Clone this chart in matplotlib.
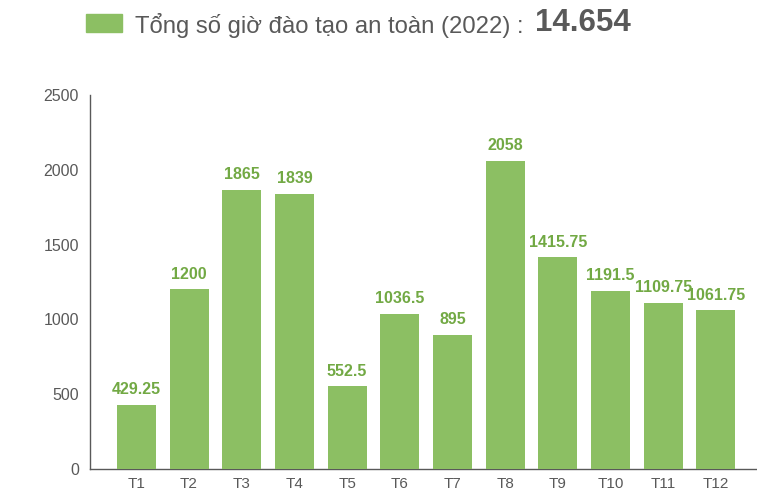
import matplotlib.pyplot as plt

months = ["T1", "T2", "T3", "T4", "T5", "T6", "T7", "T8", "T9", "T10", "T11", "T12"]
hours = [429.25, 1200, 1865, 1839, 552.5, 1036.5, 895, 2058, 1415.75, 1191.5, 1109.75, 1061.75]
total_label = "14.654"
legend_text = "Tổng số giờ đào tạo an toàn (2022) : "

bar_color = "#8cbf63"
label_color = "#72a944"
text_color = "#595959"

plt.rcParams["font.family"] = ["Liberation Sans", "DejaVu Sans"]

fig = plt.figure(figsize=(7.57, 4.93), dpi=100)
ax = fig.add_axes([90 / 757, 24 / 493, 667 / 757, 374 / 493])

x = range(len(months))
bars = ax.bar(x, hours, width=0.74, color=bar_color, zorder=3)

for bar, value in zip(bars, hours):
    ax.annotate(
        f"{value:g}",
        (bar.get_x() + bar.get_width() / 2, bar.get_height()),
        xytext=(0, 5.5),
        textcoords="offset points",
        ha="center",
        va="bottom",
        color=label_color,
        fontsize=11.5,
        fontweight="bold",
    )

ax.set_xlim(-0.88, 11.78)
ax.set_ylim(0, 2500)
ax.set_yticks([0, 500, 1000, 1500, 2000, 2500])
ax.set_yticks([2500], minor=True)
ax.set_xticks(list(x))
ax.set_xticklabels(months)

for side in ["top", "right"]:
    ax.spines[side].set_visible(False)
for side in ["left", "bottom"]:
    ax.spines[side].set_color("#595959")
    ax.spines[side].set_linewidth(1.0)

ax.tick_params(axis="y", which="major", length=0, colors=text_color,
               labelsize=11.5, pad=8)
ax.tick_params(axis="y", which="minor", direction="in", length=3,
               color="#595959")
ax.tick_params(axis="x", length=0, colors=text_color, labelsize=11, pad=6)

# legend-like header
fig.patches.append(
    plt.Rectangle((86 / 757, 1 - 32 / 493), 36 / 757, 18 / 493,
                  transform=fig.transFigure, color=bar_color)
)
t = fig.text(135 / 757, 1 - 25 / 493, legend_text, color=text_color,
             fontsize=17.2, va="center", ha="left")
fig.canvas.draw()
bb = t.get_window_extent()
fig.text(bb.x1 / 757 + 5 / 757, 1 - 23 / 493, total_label, color=text_color,
         fontsize=22.5, fontweight="bold", va="center", ha="left")

fig.savefig("out.png", dpi=100)
